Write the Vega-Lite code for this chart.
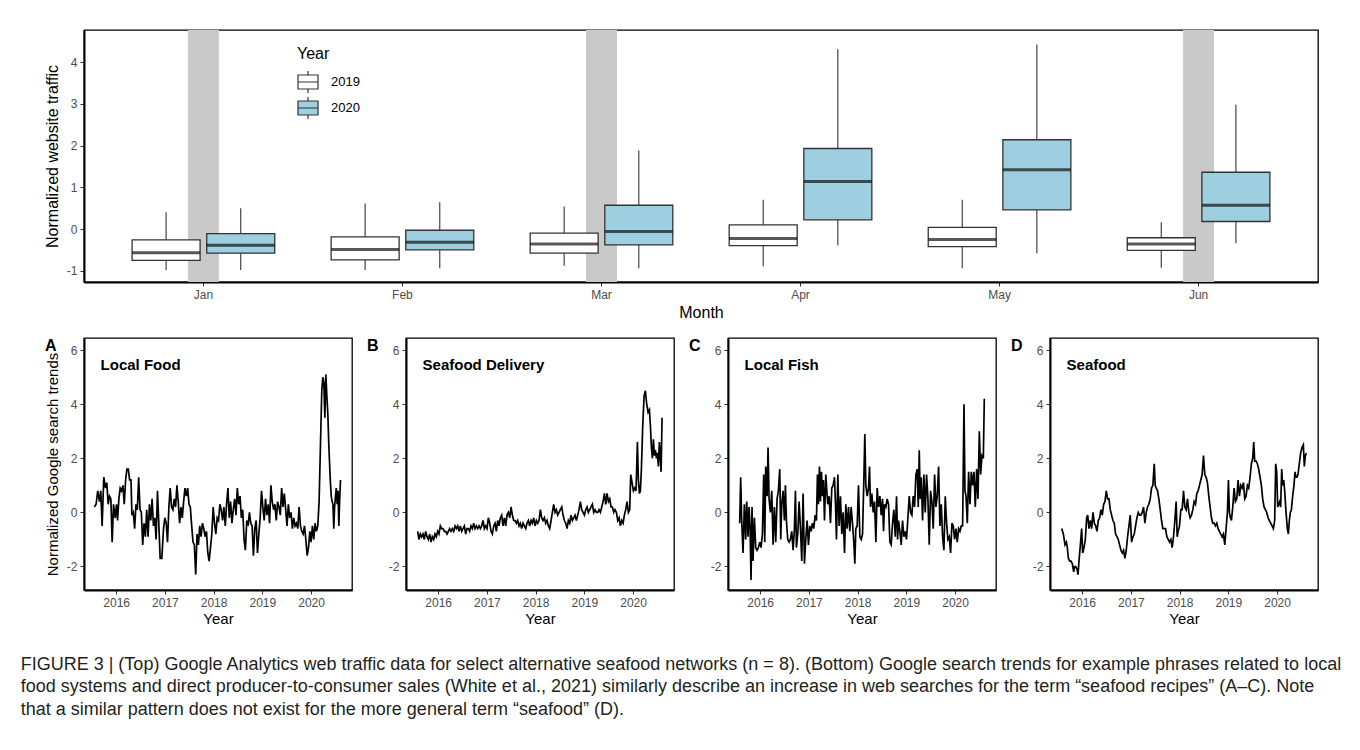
{
  "$schema": "https://vega.github.io/schema/vega-lite/v6.json",
  "background": "white",
  "padding": {"left": 20, "top": 13, "right": 5, "bottom": 5},
  "config": {
    "font": "Liberation Sans",
    "view": {"stroke": "black", "strokeWidth": 1.3},
    "axis": {"labelColor": "#4d4d4d", "labelFontSize": 12, "tickColor": "#333333", "tickSize": 4, "domainColor": "black", "domainWidth": 2, "grid": false, "titleFontWeight": "normal", "titleColor": "black", "labelPadding": 3, "labelFlush": false, "labelOverlap": false, "labelExpr": "replace(datum.label, '−', '-')"}
  },
  "datasets": {
    "boxes": [
      {"month": "Jan", "year": "2019", "lo": -0.98, "q1": -0.75, "med": -0.57, "q3": -0.26, "hi": 0.40},
      {"month": "Jan", "year": "2020", "lo": -0.98, "q1": -0.58, "med": -0.39, "q3": -0.11, "hi": 0.50},
      {"month": "Feb", "year": "2019", "lo": -0.98, "q1": -0.74, "med": -0.49, "q3": -0.19, "hi": 0.61},
      {"month": "Feb", "year": "2020", "lo": -0.94, "q1": -0.50, "med": -0.32, "q3": -0.03, "hi": 0.64},
      {"month": "Mar", "year": "2019", "lo": -0.88, "q1": -0.58, "med": -0.36, "q3": -0.10, "hi": 0.54},
      {"month": "Mar", "year": "2020", "lo": -0.94, "q1": -0.38, "med": -0.06, "q3": 0.57, "hi": 1.88},
      {"month": "Apr", "year": "2019", "lo": -0.89, "q1": -0.40, "med": -0.23, "q3": 0.10, "hi": 0.70},
      {"month": "Apr", "year": "2020", "lo": -0.39, "q1": 0.22, "med": 1.14, "q3": 1.93, "hi": 4.31},
      {"month": "May", "year": "2019", "lo": -0.94, "q1": -0.42, "med": -0.25, "q3": 0.04, "hi": 0.70},
      {"month": "May", "year": "2020", "lo": -0.58, "q1": 0.46, "med": 1.42, "q3": 2.14, "hi": 4.42},
      {"month": "Jun", "year": "2019", "lo": -0.93, "q1": -0.51, "med": -0.36, "q3": -0.21, "hi": 0.16},
      {"month": "Jun", "year": "2020", "lo": -0.34, "q1": 0.18, "med": 0.57, "q3": 1.36, "hi": 2.98}
    ],
    "shade": [{"month": "Jan"}, {"month": "Mar"}, {"month": "Jun"}],
    "panels": [
      {"panel": "A", "label": "Local Food"},
      {"panel": "B", "label": "Seafood Delivery"},
      {"panel": "C", "label": "Local Fish"},
      {"panel": "D", "label": "Seafood"}
    ],
    "localFood": [
      {"year":2015.553,"value":0.2},{"year":2015.588,"value":0.3},{"year":2015.622,"value":0.8},{"year":2015.657,"value":0.4},{"year":2015.684,"value":0.8},{"year":2015.712,"value":-0.5},{"year":2015.746,"value":1.3},{"year":2015.781,"value":0.9},{"year":2015.808,"value":1.1},{"year":2015.836,"value":0.3},{"year":2015.863,"value":0.6},{"year":2015.891,"value":0.5},{"year":2015.918,"value":-1.1},{"year":2015.946,"value":0.3},{"year":2015.98,"value":-0.2},{"year":2016.008,"value":0.3},{"year":2016.028,"value":-0.3},{"year":2016.056,"value":0.5},{"year":2016.083,"value":0.9},{"year":2016.111,"value":0.8},{"year":2016.139,"value":1.0},{"year":2016.166,"value":0.3},{"year":2016.194,"value":1.2},{"year":2016.221,"value":1.6},{"year":2016.249,"value":1.6},{"year":2016.276,"value":1.2},{"year":2016.304,"value":1.2},{"year":2016.324,"value":-0.1},{"year":2016.352,"value":0.0},{"year":2016.379,"value":-0.6},{"year":2016.407,"value":0.3},{"year":2016.435,"value":0.1},{"year":2016.462,"value":1.3},{"year":2016.49,"value":0.1},{"year":2016.517,"value":0.0},{"year":2016.545,"value":-1.2},{"year":2016.572,"value":-0.4},{"year":2016.6,"value":-0.9},{"year":2016.627,"value":0.1},{"year":2016.655,"value":-0.9},{"year":2016.683,"value":0.3},{"year":2016.71,"value":-0.3},{"year":2016.738,"value":0.5},{"year":2016.765,"value":-0.5},{"year":2016.793,"value":-0.2},{"year":2016.82,"value":-1.0},{"year":2016.848,"value":0.8},{"year":2016.875,"value":-0.4},{"year":2016.903,"value":-1.7},{"year":2016.937,"value":-1.7},{"year":2016.972,"value":-0.6},{"year":2016.999,"value":-0.2},{"year":2017.027,"value":-0.4},{"year":2017.054,"value":-1.1},{"year":2017.082,"value":0.2},{"year":2017.109,"value":0.9},{"year":2017.137,"value":0.2},{"year":2017.164,"value":0.1},{"year":2017.192,"value":0.5},{"year":2017.219,"value":0.2},{"year":2017.247,"value":1.0},{"year":2017.274,"value":0.4},{"year":2017.302,"value":-0.4},{"year":2017.33,"value":0.2},{"year":2017.357,"value":-0.2},{"year":2017.385,"value":0.4},{"year":2017.412,"value":0.9},{"year":2017.44,"value":0.6},{"year":2017.467,"value":0.9},{"year":2017.495,"value":0.3},{"year":2017.522,"value":0.2},{"year":2017.55,"value":-0.5},{"year":2017.578,"value":-1.1},{"year":2017.605,"value":-1.2},{"year":2017.633,"value":-2.3},{"year":2017.66,"value":-0.8},{"year":2017.688,"value":-1.2},{"year":2017.715,"value":-0.5},{"year":2017.743,"value":-0.9},{"year":2017.77,"value":-0.4},{"year":2017.798,"value":-0.6},{"year":2017.826,"value":-0.9},{"year":2017.853,"value":-0.7},{"year":2017.881,"value":-1.5},{"year":2017.908,"value":-1.8},{"year":2017.936,"value":-1.3},{"year":2017.963,"value":-0.8},{"year":2017.991,"value":0.2},{"year":2018.018,"value":-0.4},{"year":2018.046,"value":-0.8},{"year":2018.073,"value":-0.2},{"year":2018.101,"value":-0.3},{"year":2018.129,"value":0.3},{"year":2018.156,"value":0.1},{"year":2018.184,"value":-0.3},{"year":2018.211,"value":0.2},{"year":2018.239,"value":-0.5},{"year":2018.266,"value":0.3},{"year":2018.294,"value":0.9},{"year":2018.321,"value":-0.2},{"year":2018.349,"value":0.4},{"year":2018.377,"value":-0.4},{"year":2018.404,"value":0.1},{"year":2018.432,"value":0.5},{"year":2018.459,"value":-0.1},{"year":2018.487,"value":0.9},{"year":2018.514,"value":0.3},{"year":2018.542,"value":0.6},{"year":2018.569,"value":-0.2},{"year":2018.597,"value":0.1},{"year":2018.625,"value":-1.0},{"year":2018.652,"value":-1.4},{"year":2018.68,"value":-0.3},{"year":2018.707,"value":-0.5},{"year":2018.735,"value":0.0},{"year":2018.762,"value":-0.4},{"year":2018.79,"value":-0.5},{"year":2018.817,"value":-1.6},{"year":2018.845,"value":-0.6},{"year":2018.873,"value":-0.3},{"year":2018.9,"value":-1.5},{"year":2018.928,"value":-0.8},{"year":2018.955,"value":-0.2},{"year":2018.983,"value":0.8},{"year":2019.01,"value":0.2},{"year":2019.038,"value":-0.3},{"year":2019.065,"value":0.5},{"year":2019.093,"value":-0.1},{"year":2019.121,"value":0.3},{"year":2019.148,"value":-0.4},{"year":2019.176,"value":1.0},{"year":2019.203,"value":0.4},{"year":2019.231,"value":0.1},{"year":2019.258,"value":0.3},{"year":2019.286,"value":-0.3},{"year":2019.313,"value":0.4},{"year":2019.341,"value":0.2},{"year":2019.369,"value":-0.1},{"year":2019.396,"value":0.9},{"year":2019.424,"value":0.2},{"year":2019.451,"value":0.7},{"year":2019.479,"value":0.1},{"year":2019.506,"value":-0.5},{"year":2019.534,"value":0.3},{"year":2019.561,"value":-0.2},{"year":2019.589,"value":0.0},{"year":2019.617,"value":-0.6},{"year":2019.644,"value":-0.2},{"year":2019.672,"value":-0.5},{"year":2019.699,"value":-0.4},{"year":2019.727,"value":-0.6},{"year":2019.754,"value":0.2},{"year":2019.782,"value":-0.5},{"year":2019.809,"value":-0.7},{"year":2019.837,"value":-0.8},{"year":2019.865,"value":-0.5},{"year":2019.892,"value":-1.0},{"year":2019.92,"value":-1.6},{"year":2019.947,"value":-1.3},{"year":2019.975,"value":-0.7},{"year":2020.0,"value":-1.1},{"year":2020.028,"value":-0.5},{"year":2020.055,"value":-1.0},{"year":2020.083,"value":-0.4},{"year":2020.11,"value":-0.7},{"year":2020.138,"value":-0.5},{"year":2020.165,"value":0.4},{"year":2020.193,"value":2.5},{"year":2020.22,"value":4.5},{"year":2020.241,"value":5.0},{"year":2020.262,"value":4.8},{"year":2020.283,"value":3.5},{"year":2020.303,"value":5.1},{"year":2020.324,"value":4.3},{"year":2020.345,"value":3.6},{"year":2020.362,"value":2.6},{"year":2020.38,"value":1.8},{"year":2020.397,"value":1.1},{"year":2020.414,"value":0.6},{"year":2020.432,"value":0.4},{"year":2020.449,"value":0.3},{"year":2020.466,"value":-0.6},{"year":2020.483,"value":0.2},{"year":2020.501,"value":0.6},{"year":2020.518,"value":0.9},{"year":2020.535,"value":0.3},{"year":2020.553,"value":0.8},{"year":2020.57,"value":-0.5},{"year":2020.587,"value":0.5},{"year":2020.604,"value":1.2}
    ],
    "seafoodDelivery": [
      {"year":2015.579,"value":-0.7},{"year":2015.607,"value":-1.0},{"year":2015.634,"value":-0.8},{"year":2015.661,"value":-0.9},{"year":2015.689,"value":-0.8},{"year":2015.716,"value":-1.0},{"year":2015.744,"value":-0.7},{"year":2015.771,"value":-0.9},{"year":2015.798,"value":-1.0},{"year":2015.826,"value":-0.8},{"year":2015.853,"value":-1.1},{"year":2015.88,"value":-0.9},{"year":2015.908,"value":-1.0},{"year":2015.935,"value":-0.8},{"year":2015.963,"value":-0.9},{"year":2015.99,"value":-0.7},{"year":2016.017,"value":-0.8},{"year":2016.045,"value":-0.5},{"year":2016.072,"value":-0.6},{"year":2016.1,"value":-0.6},{"year":2016.127,"value":-0.7},{"year":2016.154,"value":-0.7},{"year":2016.182,"value":-0.8},{"year":2016.209,"value":-0.7},{"year":2016.236,"value":-0.6},{"year":2016.264,"value":-0.7},{"year":2016.291,"value":-0.6},{"year":2016.319,"value":-0.7},{"year":2016.346,"value":-0.5},{"year":2016.373,"value":-0.6},{"year":2016.401,"value":-0.5},{"year":2016.428,"value":-0.7},{"year":2016.455,"value":-0.5},{"year":2016.483,"value":-0.7},{"year":2016.51,"value":-0.6},{"year":2016.538,"value":-0.5},{"year":2016.565,"value":-0.8},{"year":2016.592,"value":-0.6},{"year":2016.62,"value":-0.6},{"year":2016.647,"value":-0.7},{"year":2016.674,"value":-0.5},{"year":2016.702,"value":-0.6},{"year":2016.729,"value":-0.4},{"year":2016.757,"value":-0.6},{"year":2016.784,"value":-0.5},{"year":2016.811,"value":-0.6},{"year":2016.839,"value":-0.5},{"year":2016.866,"value":-0.6},{"year":2016.893,"value":-0.5},{"year":2016.921,"value":-0.3},{"year":2016.948,"value":-0.6},{"year":2016.975,"value":-0.5},{"year":2017.003,"value":-0.6},{"year":2017.03,"value":-0.2},{"year":2017.058,"value":-0.4},{"year":2017.085,"value":-0.7},{"year":2017.112,"value":-0.8},{"year":2017.14,"value":-0.5},{"year":2017.167,"value":-0.4},{"year":2017.194,"value":-0.7},{"year":2017.222,"value":-0.3},{"year":2017.249,"value":-0.5},{"year":2017.277,"value":-0.2},{"year":2017.304,"value":-0.1},{"year":2017.331,"value":-0.5},{"year":2017.359,"value":-0.2},{"year":2017.386,"value":-0.5},{"year":2017.413,"value":-0.1},{"year":2017.441,"value":0.0},{"year":2017.468,"value":-0.2},{"year":2017.496,"value":0.2},{"year":2017.523,"value":-0.1},{"year":2017.55,"value":-0.3},{"year":2017.578,"value":-0.3},{"year":2017.605,"value":-0.4},{"year":2017.632,"value":-0.3},{"year":2017.66,"value":-0.5},{"year":2017.687,"value":-0.4},{"year":2017.714,"value":-0.6},{"year":2017.742,"value":-0.4},{"year":2017.769,"value":-0.5},{"year":2017.797,"value":-0.6},{"year":2017.824,"value":-0.4},{"year":2017.851,"value":-0.3},{"year":2017.879,"value":-0.5},{"year":2017.906,"value":-0.3},{"year":2017.933,"value":-0.4},{"year":2017.961,"value":-0.2},{"year":2017.988,"value":-0.5},{"year":2018.016,"value":-0.3},{"year":2018.043,"value":-0.4},{"year":2018.07,"value":-0.3},{"year":2018.098,"value":0.1},{"year":2018.125,"value":-0.2},{"year":2018.152,"value":-0.3},{"year":2018.18,"value":-0.2},{"year":2018.207,"value":-0.4},{"year":2018.235,"value":-0.3},{"year":2018.262,"value":-0.5},{"year":2018.289,"value":-0.6},{"year":2018.317,"value":-0.3},{"year":2018.344,"value":0.0},{"year":2018.371,"value":0.3},{"year":2018.399,"value":0.0},{"year":2018.426,"value":0.1},{"year":2018.453,"value":-0.1},{"year":2018.481,"value":0.0},{"year":2018.508,"value":0.1},{"year":2018.536,"value":0.2},{"year":2018.563,"value":-0.1},{"year":2018.59,"value":-0.3},{"year":2018.618,"value":-0.4},{"year":2018.645,"value":-0.6},{"year":2018.672,"value":-0.3},{"year":2018.7,"value":-0.4},{"year":2018.727,"value":-0.1},{"year":2018.755,"value":-0.3},{"year":2018.782,"value":-0.2},{"year":2018.809,"value":-0.1},{"year":2018.837,"value":-0.3},{"year":2018.864,"value":-0.1},{"year":2018.891,"value":0.1},{"year":2018.919,"value":0.4},{"year":2018.946,"value":0.1},{"year":2018.974,"value":0.0},{"year":2019.001,"value":-0.1},{"year":2019.028,"value":0.1},{"year":2019.056,"value":0.2},{"year":2019.083,"value":0.0},{"year":2019.11,"value":0.1},{"year":2019.138,"value":0.2},{"year":2019.165,"value":0.3},{"year":2019.193,"value":0.0},{"year":2019.22,"value":0.1},{"year":2019.247,"value":0.0},{"year":2019.275,"value":0.0},{"year":2019.302,"value":0.1},{"year":2019.329,"value":0.0},{"year":2019.357,"value":0.2},{"year":2019.384,"value":0.4},{"year":2019.412,"value":0.7},{"year":2019.439,"value":0.3},{"year":2019.466,"value":0.7},{"year":2019.494,"value":0.4},{"year":2019.521,"value":0.5},{"year":2019.548,"value":0.2},{"year":2019.576,"value":0.2},{"year":2019.603,"value":0.0},{"year":2019.63,"value":0.1},{"year":2019.658,"value":0.0},{"year":2019.685,"value":-0.3},{"year":2019.713,"value":-0.2},{"year":2019.74,"value":-0.5},{"year":2019.767,"value":-0.3},{"year":2019.795,"value":-0.4},{"year":2019.822,"value":-0.1},{"year":2019.849,"value":0.1},{"year":2019.877,"value":0.4},{"year":2019.904,"value":0.0},{"year":2019.931,"value":0.1},{"year":2019.952,"value":1.4},{"year":2019.979,"value":1.1},{"year":2020.007,"value":0.8},{"year":2020.034,"value":0.9},{"year":2020.061,"value":0.8},{"year":2020.089,"value":2.6},{"year":2020.109,"value":1.2},{"year":2020.13,"value":0.7},{"year":2020.15,"value":0.8},{"year":2020.171,"value":1.6},{"year":2020.198,"value":3.2},{"year":2020.226,"value":4.3},{"year":2020.253,"value":4.5},{"year":2020.28,"value":4.0},{"year":2020.308,"value":3.7},{"year":2020.335,"value":3.8},{"year":2020.356,"value":3.2},{"year":2020.376,"value":2.4},{"year":2020.397,"value":2.0},{"year":2020.417,"value":2.7},{"year":2020.438,"value":2.1},{"year":2020.458,"value":2.3},{"year":2020.479,"value":2.0},{"year":2020.499,"value":2.2},{"year":2020.52,"value":1.7},{"year":2020.54,"value":2.6},{"year":2020.561,"value":2.0},{"year":2020.575,"value":1.5},{"year":2020.595,"value":3.5}
    ],
    "localFish": [
      {"year":2015.58,"value":-0.4},{"year":2015.6,"value":1.3},{"year":2015.621,"value":-0.3},{"year":2015.648,"value":-1.5},{"year":2015.676,"value":0.3},{"year":2015.703,"value":-1.0},{"year":2015.724,"value":0.4},{"year":2015.751,"value":-0.9},{"year":2015.772,"value":0.2},{"year":2015.792,"value":-0.5},{"year":2015.813,"value":-2.5},{"year":2015.833,"value":0.2},{"year":2015.854,"value":-1.8},{"year":2015.881,"value":-0.2},{"year":2015.909,"value":-1.3},{"year":2015.936,"value":-1.4},{"year":2015.964,"value":-1.3},{"year":2015.991,"value":-1.1},{"year":2016.018,"value":-1.3},{"year":2016.046,"value":-0.8},{"year":2016.073,"value":1.4},{"year":2016.094,"value":-1.1},{"year":2016.114,"value":1.7},{"year":2016.142,"value":0.6},{"year":2016.162,"value":2.4},{"year":2016.183,"value":0.5},{"year":2016.21,"value":0.0},{"year":2016.238,"value":0.8},{"year":2016.265,"value":-1.2},{"year":2016.292,"value":0.2},{"year":2016.32,"value":-1.1},{"year":2016.347,"value":0.5},{"year":2016.374,"value":0.8},{"year":2016.402,"value":1.6},{"year":2016.422,"value":-1.0},{"year":2016.443,"value":0.3},{"year":2016.47,"value":0.8},{"year":2016.498,"value":-0.3},{"year":2016.518,"value":1.0},{"year":2016.539,"value":-0.3},{"year":2016.566,"value":-1.0},{"year":2016.594,"value":-1.1},{"year":2016.621,"value":-1.0},{"year":2016.648,"value":-0.7},{"year":2016.676,"value":-1.4},{"year":2016.703,"value":-0.6},{"year":2016.724,"value":0.8},{"year":2016.744,"value":-1.3},{"year":2016.772,"value":-0.8},{"year":2016.799,"value":0.4},{"year":2016.827,"value":-0.6},{"year":2016.854,"value":-1.8},{"year":2016.881,"value":0.7},{"year":2016.909,"value":-1.9},{"year":2016.936,"value":-1.0},{"year":2016.963,"value":-0.3},{"year":2016.991,"value":-1.2},{"year":2017.018,"value":-0.5},{"year":2017.046,"value":-0.7},{"year":2017.073,"value":-0.4},{"year":2017.1,"value":-0.6},{"year":2017.128,"value":-0.1},{"year":2017.155,"value":-0.3},{"year":2017.176,"value":1.4},{"year":2017.196,"value":0.3},{"year":2017.217,"value":1.7},{"year":2017.237,"value":0.4},{"year":2017.258,"value":1.5},{"year":2017.279,"value":0.6},{"year":2017.299,"value":1.2},{"year":2017.32,"value":-0.3},{"year":2017.347,"value":1.4},{"year":2017.368,"value":0.8},{"year":2017.388,"value":0.3},{"year":2017.416,"value":0.6},{"year":2017.443,"value":-0.4},{"year":2017.47,"value":0.9},{"year":2017.498,"value":1.0},{"year":2017.525,"value":1.3},{"year":2017.546,"value":0.3},{"year":2017.566,"value":-1.0},{"year":2017.594,"value":1.4},{"year":2017.621,"value":-0.5},{"year":2017.648,"value":0.6},{"year":2017.676,"value":-0.8},{"year":2017.703,"value":0.0},{"year":2017.731,"value":-1.5},{"year":2017.758,"value":0.3},{"year":2017.785,"value":-0.6},{"year":2017.813,"value":0.2},{"year":2017.84,"value":-0.7},{"year":2017.867,"value":0.2},{"year":2017.895,"value":-0.4},{"year":2017.922,"value":-1.1},{"year":2017.943,"value":-1.9},{"year":2017.963,"value":-0.6},{"year":2017.991,"value":-0.5},{"year":2018.018,"value":1.0},{"year":2018.046,"value":-0.9},{"year":2018.073,"value":-1.0},{"year":2018.101,"value":-0.8},{"year":2018.128,"value":1.2},{"year":2018.148,"value":2.9},{"year":2018.169,"value":1.0},{"year":2018.196,"value":0.6},{"year":2018.224,"value":0.9},{"year":2018.244,"value":1.7},{"year":2018.265,"value":0.2},{"year":2018.292,"value":0.7},{"year":2018.32,"value":0.0},{"year":2018.347,"value":0.4},{"year":2018.375,"value":-1.1},{"year":2018.402,"value":0.9},{"year":2018.429,"value":0.2},{"year":2018.457,"value":0.6},{"year":2018.484,"value":-0.1},{"year":2018.511,"value":0.5},{"year":2018.532,"value":-0.7},{"year":2018.552,"value":0.3},{"year":2018.58,"value":0.2},{"year":2018.607,"value":0.5},{"year":2018.635,"value":0.3},{"year":2018.662,"value":-1.1},{"year":2018.689,"value":-1.2},{"year":2018.717,"value":-0.4},{"year":2018.744,"value":0.1},{"year":2018.772,"value":-0.9},{"year":2018.799,"value":0.6},{"year":2018.82,"value":-1.0},{"year":2018.84,"value":-0.3},{"year":2018.868,"value":-0.7},{"year":2018.895,"value":-1.2},{"year":2018.922,"value":-0.3},{"year":2018.95,"value":-0.9},{"year":2018.977,"value":-0.7},{"year":2019.004,"value":-1.0},{"year":2019.032,"value":-0.2},{"year":2019.059,"value":0.6},{"year":2019.087,"value":0.0},{"year":2019.114,"value":-0.1},{"year":2019.141,"value":0.6},{"year":2019.169,"value":0.2},{"year":2019.196,"value":1.4},{"year":2019.224,"value":1.6},{"year":2019.244,"value":0.2},{"year":2019.265,"value":2.3},{"year":2019.285,"value":0.5},{"year":2019.306,"value":1.3},{"year":2019.333,"value":-0.3},{"year":2019.36,"value":1.4},{"year":2019.388,"value":0.0},{"year":2019.415,"value":1.4},{"year":2019.443,"value":0.5},{"year":2019.47,"value":-1.2},{"year":2019.497,"value":0.8},{"year":2019.525,"value":0.4},{"year":2019.552,"value":-0.6},{"year":2019.58,"value":1.4},{"year":2019.607,"value":0.2},{"year":2019.634,"value":0.6},{"year":2019.662,"value":1.7},{"year":2019.689,"value":-0.5},{"year":2019.717,"value":0.3},{"year":2019.744,"value":-0.9},{"year":2019.771,"value":-1.4},{"year":2019.799,"value":0.6},{"year":2019.826,"value":-0.4},{"year":2019.853,"value":-1.0},{"year":2019.881,"value":-0.9},{"year":2019.908,"value":-1.5},{"year":2019.936,"value":-0.4},{"year":2019.963,"value":-0.5},{"year":2019.991,"value":-1.0},{"year":2020.018,"value":-0.6},{"year":2020.045,"value":-1.1},{"year":2020.073,"value":-0.6},{"year":2020.1,"value":-0.7},{"year":2020.128,"value":-0.5},{"year":2020.155,"value":-0.5},{"year":2020.183,"value":4.0},{"year":2020.203,"value":0.8},{"year":2020.224,"value":0.6},{"year":2020.251,"value":-0.4},{"year":2020.278,"value":1.5},{"year":2020.306,"value":0.3},{"year":2020.333,"value":1.5},{"year":2020.361,"value":1.0},{"year":2020.388,"value":1.5},{"year":2020.415,"value":0.2},{"year":2020.443,"value":1.6},{"year":2020.47,"value":0.5},{"year":2020.498,"value":3.0},{"year":2020.525,"value":1.4},{"year":2020.552,"value":2.1},{"year":2020.58,"value":2.0},{"year":2020.6,"value":4.2}
    ],
    "seafood": [
      {"year":2015.58,"value":-0.6},{"year":2015.614,"value":-0.8},{"year":2015.648,"value":-1.2},{"year":2015.676,"value":-1.1},{"year":2015.696,"value":-1.3},{"year":2015.717,"value":-1.7},{"year":2015.744,"value":-1.8},{"year":2015.771,"value":-1.8},{"year":2015.799,"value":-1.9},{"year":2015.826,"value":-2.2},{"year":2015.846,"value":-2.0},{"year":2015.867,"value":-2.0},{"year":2015.894,"value":-2.1},{"year":2015.915,"value":-2.3},{"year":2015.935,"value":-1.8},{"year":2015.963,"value":-1.2},{"year":2015.99,"value":-0.6},{"year":2016.01,"value":-1.5},{"year":2016.038,"value":-1.3},{"year":2016.065,"value":-1.0},{"year":2016.092,"value":-0.2},{"year":2016.113,"value":-0.1},{"year":2016.14,"value":-0.6},{"year":2016.167,"value":-0.3},{"year":2016.195,"value":-0.6},{"year":2016.222,"value":0.0},{"year":2016.249,"value":-0.4},{"year":2016.277,"value":-0.5},{"year":2016.304,"value":-0.7},{"year":2016.331,"value":-0.3},{"year":2016.359,"value":-0.2},{"year":2016.386,"value":0.1},{"year":2016.413,"value":-0.1},{"year":2016.441,"value":0.3},{"year":2016.468,"value":0.4},{"year":2016.495,"value":0.8},{"year":2016.523,"value":0.5},{"year":2016.55,"value":0.5},{"year":2016.577,"value":0.1},{"year":2016.604,"value":-0.1},{"year":2016.632,"value":-0.3},{"year":2016.659,"value":-0.4},{"year":2016.686,"value":-0.8},{"year":2016.714,"value":-0.9},{"year":2016.741,"value":-1.0},{"year":2016.768,"value":-1.2},{"year":2016.796,"value":-1.4},{"year":2016.823,"value":-1.5},{"year":2016.85,"value":-1.4},{"year":2016.878,"value":-1.7},{"year":2016.905,"value":-1.4},{"year":2016.932,"value":-0.9},{"year":2016.96,"value":-0.5},{"year":2016.987,"value":-0.1},{"year":2017.014,"value":-1.1},{"year":2017.042,"value":-0.9},{"year":2017.069,"value":-0.8},{"year":2017.096,"value":-0.5},{"year":2017.124,"value":-0.2},{"year":2017.151,"value":0.0},{"year":2017.178,"value":-0.1},{"year":2017.205,"value":-0.1},{"year":2017.233,"value":0.0},{"year":2017.26,"value":0.2},{"year":2017.287,"value":-0.4},{"year":2017.315,"value":0.0},{"year":2017.342,"value":0.2},{"year":2017.369,"value":0.3},{"year":2017.397,"value":0.5},{"year":2017.424,"value":0.9},{"year":2017.451,"value":1.0},{"year":2017.479,"value":1.8},{"year":2017.499,"value":1.0},{"year":2017.52,"value":0.9},{"year":2017.547,"value":0.8},{"year":2017.574,"value":0.5},{"year":2017.602,"value":0.1},{"year":2017.629,"value":-0.3},{"year":2017.656,"value":-0.6},{"year":2017.684,"value":-0.6},{"year":2017.711,"value":-0.6},{"year":2017.738,"value":-0.9},{"year":2017.765,"value":-1.0},{"year":2017.793,"value":-1.1},{"year":2017.82,"value":-1.0},{"year":2017.847,"value":-1.3},{"year":2017.875,"value":-0.9},{"year":2017.902,"value":-0.3},{"year":2017.929,"value":0.4},{"year":2017.95,"value":-0.9},{"year":2017.97,"value":-0.7},{"year":2017.998,"value":-0.5},{"year":2018.025,"value":0.1},{"year":2018.052,"value":0.1},{"year":2018.08,"value":0.8},{"year":2018.107,"value":0.2},{"year":2018.134,"value":0.1},{"year":2018.162,"value":0.5},{"year":2018.189,"value":0.0},{"year":2018.216,"value":-0.2},{"year":2018.244,"value":-0.1},{"year":2018.271,"value":0.1},{"year":2018.298,"value":0.4},{"year":2018.326,"value":0.3},{"year":2018.353,"value":0.7},{"year":2018.38,"value":0.8},{"year":2018.408,"value":1.0},{"year":2018.435,"value":1.2},{"year":2018.462,"value":1.4},{"year":2018.49,"value":2.1},{"year":2018.517,"value":1.4},{"year":2018.544,"value":1.3},{"year":2018.571,"value":1.1},{"year":2018.599,"value":0.6},{"year":2018.626,"value":0.2},{"year":2018.653,"value":-0.2},{"year":2018.681,"value":-0.4},{"year":2018.708,"value":-0.4},{"year":2018.735,"value":-0.5},{"year":2018.763,"value":-0.4},{"year":2018.79,"value":-0.6},{"year":2018.817,"value":-0.7},{"year":2018.845,"value":-0.8},{"year":2018.872,"value":-0.9},{"year":2018.899,"value":-0.8},{"year":2018.927,"value":-1.2},{"year":2018.954,"value":-0.6},{"year":2018.981,"value":0.0},{"year":2019.002,"value":1.2},{"year":2019.022,"value":0.0},{"year":2019.043,"value":-0.2},{"year":2019.063,"value":-0.3},{"year":2019.091,"value":0.2},{"year":2019.118,"value":0.9},{"year":2019.145,"value":0.4},{"year":2019.173,"value":0.5},{"year":2019.2,"value":1.2},{"year":2019.227,"value":0.6},{"year":2019.255,"value":1.0},{"year":2019.282,"value":0.9},{"year":2019.309,"value":1.1},{"year":2019.337,"value":0.5},{"year":2019.364,"value":0.6},{"year":2019.391,"value":1.0},{"year":2019.418,"value":0.9},{"year":2019.446,"value":1.3},{"year":2019.473,"value":1.8},{"year":2019.5,"value":2.0},{"year":2019.521,"value":2.6},{"year":2019.541,"value":1.9},{"year":2019.569,"value":1.9},{"year":2019.596,"value":1.8},{"year":2019.623,"value":1.6},{"year":2019.651,"value":1.3},{"year":2019.678,"value":1.0},{"year":2019.705,"value":0.5},{"year":2019.733,"value":0.2},{"year":2019.76,"value":0.1},{"year":2019.787,"value":0.0},{"year":2019.815,"value":-0.2},{"year":2019.842,"value":-0.3},{"year":2019.869,"value":-0.4},{"year":2019.897,"value":-0.5},{"year":2019.924,"value":-0.6},{"year":2019.951,"value":-0.3},{"year":2019.972,"value":1.8},{"year":2019.992,"value":1.5},{"year":2020.013,"value":0.2},{"year":2020.033,"value":0.3},{"year":2020.054,"value":0.4},{"year":2020.074,"value":0.2},{"year":2020.095,"value":1.6},{"year":2020.115,"value":1.0},{"year":2020.136,"value":1.2},{"year":2020.156,"value":0.8},{"year":2020.184,"value":0.0},{"year":2020.211,"value":-0.6},{"year":2020.231,"value":-0.8},{"year":2020.252,"value":-0.3},{"year":2020.272,"value":0.0},{"year":2020.293,"value":0.1},{"year":2020.32,"value":0.6},{"year":2020.347,"value":1.0},{"year":2020.368,"value":1.5},{"year":2020.388,"value":1.3},{"year":2020.409,"value":1.3},{"year":2020.429,"value":1.4},{"year":2020.457,"value":1.8},{"year":2020.484,"value":2.2},{"year":2020.511,"value":2.4},{"year":2020.539,"value":2.5},{"year":2020.559,"value":1.7},{"year":2020.58,"value":2.1},{"year":2020.6,"value":2.2}
    ]
  },
  "title": {
    "text": [
      "FIGURE 3 | (Top) Google Analytics web traffic data for select alternative seafood networks (n = 8). (Bottom) Google search trends for example phrases related to local",
      "food systems and direct producer-to-consumer sales (White et al., 2021) similarly describe an increase in web searches for the term “seafood recipes” (A–C). Note",
      "that a similar pattern does not exist for the more general term “seafood” (D)."
    ],
    "orient": "bottom", "anchor": "start", "frame": "bounds", "dx": -23, "offset": 29,
    "fontSize": 18, "fontWeight": "normal", "color": "#231f20", "lineHeight": 22.5, "baseline": "top", "align": "left"
  },
  "bounds": "flush",
  "spacing": 56,
  "vconcat": [
    {
      "width": 1234, "height": 252,
      "layer": [
        {
          "data": {"name": "shade"},
          "mark": {"type": "rule", "color": "#c9c9c9", "strokeWidth": 31},
          "encoding": {
            "x": {"field": "month", "type": "nominal", "sort": ["Jan","Feb","Mar","Apr","May","Jun"]}
          }
        },
        {
          "data": {"name": "boxes"},
          "mark": {"type": "rule", "color": "#333333", "strokeWidth": 1.1},
          "encoding": {
            "x": {"field": "month", "type": "nominal", "sort": ["Jan","Feb","Mar","Apr","May","Jun"]},
            "xOffset": {"field": "year", "type": "nominal", "scale": {"paddingInner": 0, "paddingOuter": 0}},
            "y": {"field": "lo", "type": "quantitative"},
            "y2": {"field": "hi"}
          }
        },
        {
          "data": {"name": "boxes"},
          "mark": {"type": "bar", "size": 68, "stroke": "#333333", "strokeWidth": 1.3},
          "encoding": {
            "x": {"field": "month", "type": "nominal", "sort": ["Jan","Feb","Mar","Apr","May","Jun"]},
            "xOffset": {"field": "year", "type": "nominal", "scale": {"paddingInner": 0, "paddingOuter": 0}},
            "y": {"field": "q1", "type": "quantitative"},
            "y2": {"field": "q3"},
            "fill": {
              "field": "year", "type": "nominal",
              "scale": {"domain": ["2019", "2020"], "range": ["white", "#9dcfe1"]},
              "legend": {
                "orient": "none", "legendX": 213, "legendY": 16,
                "title": "Year", "titleFontSize": 16, "titleFontWeight": "normal", "titleColor": "black", "titlePadding": 9,
                "labelFontSize": 13, "labelColor": "black", "labelOffset": 12,
                "symbolType": "M-1,-0.7H1V0.7H-1Z M-1,0H1 M0,-0.7V-1.1 M0,0.7V1.1",
                "symbolSize": 400, "symbolStrokeColor": "#333333", "symbolStrokeWidth": 1.2, "rowPadding": -2
              }
            }
          }
        },
        {
          "data": {"name": "boxes"},
          "mark": {"type": "tick", "size": 68, "thickness": 3, "color": "#111111"},
          "encoding": {
            "x": {"field": "month", "type": "nominal", "sort": ["Jan","Feb","Mar","Apr","May","Jun"]},
            "xOffset": {"field": "year", "type": "nominal", "scale": {"paddingInner": 0, "paddingOuter": 0}},
            "y": {"field": "med", "type": "quantitative"}
          }
        }
      ],
      "encoding": {
        "x": {"field": "month", "type": "nominal", "sort": ["Jan","Feb","Mar","Apr","May","Jun"],
              "scale": {"paddingInner": 0.25, "paddingOuter": 0.225},
              "axis": {"title": "Month", "labelAngle": 0, "titleFontSize": 16, "titlePadding": 4}},
        "y": {"type": "quantitative", "scale": {"domain": [-1.27, 4.77], "nice": false, "zero": false},
              "axis": {"title": "Normalized website traffic", "values": [-1,0,1,2,3,4], "titleFontSize": 16, "titlePadding": 6}}
      }
    },
    {
      "hconcat": [
        {
          "width": 268, "height": 252,
          "title": {"text": "A", "anchor": "start", "frame": "group", "dx": -39, "offset": -29, "baseline": "alphabetic", "fontSize": 16, "fontWeight": "bold", "color": "black"},
          "encoding": {
            "x": {"type": "quantitative", "scale": {"domain": [2015.34, 2020.84], "nice": false, "zero": false},
                  "axis": {"values": [2016,2017,2018,2019,2020], "format": "d", "title": "Year", "titleFontSize": 15, "titlePadding": 3}},
            "y": {"type": "quantitative", "scale": {"domain": [-2.87, 6.45], "nice": false, "zero": false},
                  "axis": {"values": [-2,0,2,4,6], "title": "Normalized Google search trends", "titleFontSize": 15, "titlePadding": 6}}
          },
          "layer": [
            {"data": {"name": "localFood"}, "mark": {"type": "line", "color": "black", "strokeWidth": 1.7},
             "encoding": {"x": {"field": "year"}, "y": {"field": "value"}}},
            {"data": {"name": "panels"}, "transform": [{"filter": "datum.panel === 'A'"}],
             "mark": {"type": "text", "align": "left", "baseline": "middle", "fontSize": 15, "fontWeight": "bold", "color": "black"},
             "encoding": {"x": {"datum": 2015.68}, "y": {"datum": 5.45}, "text": {"field": "label"}}}
          ]
        },
        {
          "width": 268, "height": 252,
          "title": {"text": "B", "anchor": "start", "frame": "group", "dx": -39, "offset": -29, "baseline": "alphabetic", "fontSize": 16, "fontWeight": "bold", "color": "black"},
          "encoding": {
            "x": {"type": "quantitative", "scale": {"domain": [2015.34, 2020.84], "nice": false, "zero": false},
                  "axis": {"values": [2016,2017,2018,2019,2020], "format": "d", "title": "Year", "titleFontSize": 15, "titlePadding": 3}},
            "y": {"type": "quantitative", "scale": {"domain": [-2.87, 6.45], "nice": false, "zero": false},
                  "axis": {"values": [-2,0,2,4,6], "title": null}}
          },
          "layer": [
            {"data": {"name": "seafoodDelivery"}, "mark": {"type": "line", "color": "black", "strokeWidth": 1.7},
             "encoding": {"x": {"field": "year"}, "y": {"field": "value"}}},
            {"data": {"name": "panels"}, "transform": [{"filter": "datum.panel === 'B'"}],
             "mark": {"type": "text", "align": "left", "baseline": "middle", "fontSize": 15, "fontWeight": "bold", "color": "black"},
             "encoding": {"x": {"datum": 2015.68}, "y": {"datum": 5.45}, "text": {"field": "label"}}}
          ]
        },
        {
          "width": 268, "height": 252,
          "title": {"text": "C", "anchor": "start", "frame": "group", "dx": -39, "offset": -29, "baseline": "alphabetic", "fontSize": 16, "fontWeight": "bold", "color": "black"},
          "encoding": {
            "x": {"type": "quantitative", "scale": {"domain": [2015.34, 2020.84], "nice": false, "zero": false},
                  "axis": {"values": [2016,2017,2018,2019,2020], "format": "d", "title": "Year", "titleFontSize": 15, "titlePadding": 3}},
            "y": {"type": "quantitative", "scale": {"domain": [-2.87, 6.45], "nice": false, "zero": false},
                  "axis": {"values": [-2,0,2,4,6], "title": null}}
          },
          "layer": [
            {"data": {"name": "localFish"}, "mark": {"type": "line", "color": "black", "strokeWidth": 1.7},
             "encoding": {"x": {"field": "year"}, "y": {"field": "value"}}},
            {"data": {"name": "panels"}, "transform": [{"filter": "datum.panel === 'C'"}],
             "mark": {"type": "text", "align": "left", "baseline": "middle", "fontSize": 15, "fontWeight": "bold", "color": "black"},
             "encoding": {"x": {"datum": 2015.68}, "y": {"datum": 5.45}, "text": {"field": "label"}}}
          ]
        },
        {
          "width": 268, "height": 252,
          "title": {"text": "D", "anchor": "start", "frame": "group", "dx": -39, "offset": -29, "baseline": "alphabetic", "fontSize": 16, "fontWeight": "bold", "color": "black"},
          "encoding": {
            "x": {"type": "quantitative", "scale": {"domain": [2015.34, 2020.84], "nice": false, "zero": false},
                  "axis": {"values": [2016,2017,2018,2019,2020], "format": "d", "title": "Year", "titleFontSize": 15, "titlePadding": 3}},
            "y": {"type": "quantitative", "scale": {"domain": [-2.87, 6.45], "nice": false, "zero": false},
                  "axis": {"values": [-2,0,2,4,6], "title": null}}
          },
          "layer": [
            {"data": {"name": "seafood"}, "mark": {"type": "line", "color": "black", "strokeWidth": 1.7},
             "encoding": {"x": {"field": "year"}, "y": {"field": "value"}}},
            {"data": {"name": "panels"}, "transform": [{"filter": "datum.panel === 'D'"}],
             "mark": {"type": "text", "align": "left", "baseline": "middle", "fontSize": 15, "fontWeight": "bold", "color": "black"},
             "encoding": {"x": {"datum": 2015.68}, "y": {"datum": 5.45}, "text": {"field": "label"}}}
          ]
        }
      ],
      "spacing": 54,
      "bounds": "flush"
    }
  ]
}
